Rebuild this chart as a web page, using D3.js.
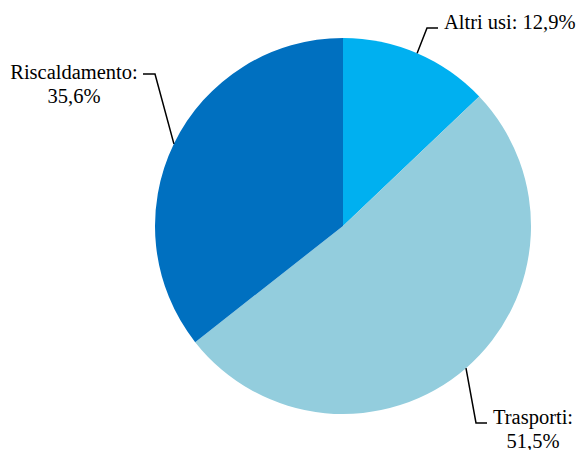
<!DOCTYPE html>
<html><head><meta charset="utf-8">
<script src="https://cdn.jsdelivr.net/npm/d3@7"></script>
<style>body{margin:0;background:#fff}svg{display:block}</style>
</head><body>
<svg id="c" width="579" height="450"></svg>
<script>
const categories = ["Altri usi", "Trasporti", "Riscaldamento"];
const values = [12.9, 51.5, 35.6];
const labels = ["Altri usi: 12,9%", "Trasporti:\n51,5%", "Riscaldamento:\n35,6%"];
const colors = ["#00B0F0", "#93CDDD", "#0070C0"];

const cx = 343, cy = 226, r = 188;
// label layout: elbow point, end of horizontal, text anchor pos
const layout = [
  {elbow:[427,28], end:[438,28], tx:444, ty:29, anchor:"start"},
  {elbow:[476,423], end:[487,423], tx:533, ty:424, anchor:"middle"},
  {elbow:[155,74], end:[143,74], tx:74, ty:79, anchor:"middle"}
];

const svg = d3.select("#c");
const g = svg.append("g").attr("transform", `translate(${cx},${cy})`);
const pie = d3.pie().sort(null).value(d => d)(values);
const arc = d3.arc().innerRadius(0).outerRadius(r);
g.selectAll("path.s").data(pie).join("path")
  .attr("class","s").attr("d", arc).attr("fill", (d,i) => colors[i]);

pie.forEach((d,i) => {
  const a = (d.startAngle + d.endAngle)/2;
  const p0 = [cx + r*Math.sin(a), cy - r*Math.cos(a)];
  const L = layout[i];
  svg.append("polyline")
    .attr("points", [p0, L.elbow, L.end].map(p => p.join(",")).join(" "))
    .attr("fill","none").attr("stroke","#000").attr("stroke-width",1.5);
  const lines = labels[i].split("\n");
  const t = svg.append("text").attr("x", L.tx).attr("y", L.ty)
    .attr("text-anchor", L.anchor)
    .style("font-family", '"Liberation Serif"')
    .style("font-size","20.5px").attr("fill","#000");
  lines.forEach((ln,k) => t.append("tspan").attr("x", L.tx).attr("dy", k===0?0:23.5).text(ln));
});
</script>
</body></html>
